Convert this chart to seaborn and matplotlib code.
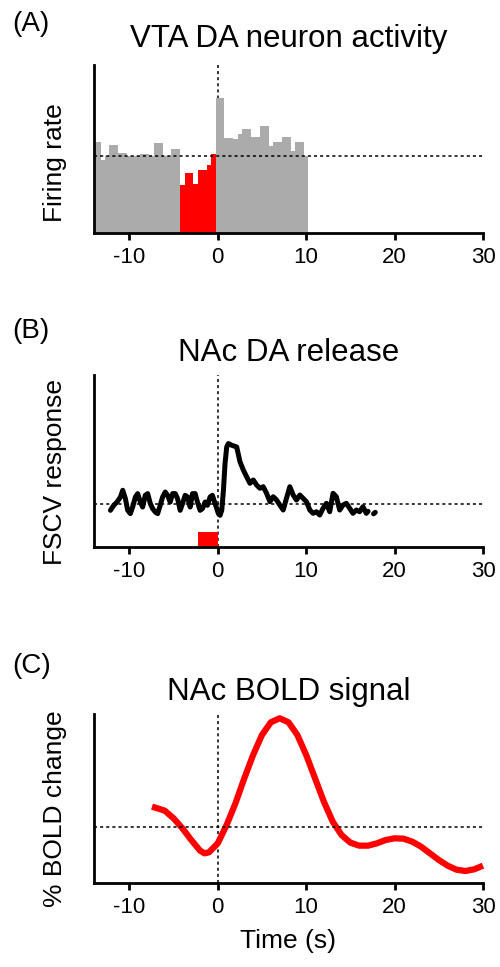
import numpy as np
import pandas as pd
import seaborn as sns
import matplotlib.pyplot as plt

# ---- data ----
xticks = [-10, 0, 10, 20, 30]

# (A) VTA firing rate, 0.5 s bins, first bin starts at -14.25 s
vta_first_edge = -14.25
vta_bin = 0.5
vta_pre = [1.18, 1.18, 0.95, 0.99, 1.14, 1.14, 1.04, 1.04, 1.0, 0.99,
           1.0, 1.02, 1.02, 1.0, 1.16, 1.16, 1.0, 1.0, 1.09, 1.09]
vta_stim = [0.62, 0.77, 0.77, 0.64, 0.81, 0.81, 0.88, 1.02]
vta_post = [1.75, 1.75, 1.23, 1.23, 1.21, 1.28, 1.34, 1.34, 1.24, 1.24, 1.38,
            1.38, 1.13, 1.18, 1.18, 1.24, 1.24, 1.06, 1.18, 1.18, 1.0]
vta_baseline = 1.0

# (B) FSCV trace
fscv_t = [-12.14, -11.77, -11.39, -11.01, -10.75, -10.45, -10.19, -9.89, -9.63, -9.32,
          -9.06, -8.76, -8.50, -8.20, -7.93, -7.63, -7.37, -7.07, -6.80, -6.51,
          -6.24, -5.94, -5.68, -5.38, -5.11, -4.81, -4.55, -4.25, -3.99, -3.69,
          -3.42, -3.12, -2.86, -2.56, -2.30, -2.00, -1.73, -1.43, -1.17, -0.87,
          -0.61, -0.30, 0.07, 0.26, 0.45, 0.64, 0.82, 1.01, 1.20, 1.58,
          2.14, 2.51, 2.89, 3.26, 3.64, 4.02, 4.39, 4.77, 5.14, 5.52,
          5.90, 6.27, 6.65, 7.02, 7.40, 7.77, 8.15, 8.53, 8.90, 9.28,
          9.65, 10.03, 10.41, 10.78, 11.16, 11.53, 11.91, 12.29, 12.66, 13.04,
          13.41, 13.79, 14.17, 14.54, 14.92, 15.29, 15.67, 16.05, 16.42, 16.80, 17.0]
fscv_v = [-0.6, -0.1, 0.23, 0.73, 1.4, 0.57, -0.6, -0.93, -0.27, 0.73,
          1.07, 0.23, -0.27, 0.9, 1.07, 0.07, -0.43, -0.77, -0.93, -0.1,
          0.73, 1.23, 0.9, 0.23, 1.07, 1.07, 0.57, -0.6, 0.07, 0.9,
          0.73, -0.27, 1.07, 1.07, 0.23, -0.6, -0.43, 0.23, -0.1, 0.73,
          0.9, 0.07, -0.93, -1.1, -0.6, 1.4, 4.07, 5.73, 6.07, 5.9,
          5.73, 4.26, 3.43, 2.76, 2.1, 2.43, 1.93, 1.6, 1.76, 1.1,
          0.26, 0.76, 0.43, -0.07, -0.57, 0.6, 1.76, 0.93, 0.43, 0.93,
          0.6, 0.26, -0.57, -0.9, -0.74, -1.07, -0.4, 0.1, -0.74, 1.1,
          0.76, -0.57, -0.07, 0.1, -0.4, -0.9, -0.57, -0.74, -0.24, -0.9, -0.7]
fscv_tail_t = [17.62, 17.82]
fscv_tail_v = [-0.95, -0.8]
stim_t = [-2.2, 0.0]
stim_top = -2.73

# (C) BOLD
bold_t = [-7.44, -6, -5, -4, -3, -2, -1.5, -1, 0, 1, 2, 3, 4, 5, 6, 7, 8, 9, 10,
          11, 12, 13, 14, 15, 16, 17, 18, 19, 20, 21, 22, 23, 24, 25, 26, 27, 28, 29, 30]
bold_v = [0.6, 0.48, 0.25, -0.05, -0.4, -0.72, -0.8, -0.77, -0.5, 0.05, 0.7, 1.45,
          2.15, 2.75, 3.13, 3.25, 3.13, 2.75, 2.15, 1.45, 0.75, 0.15, -0.25, -0.48,
          -0.57, -0.57, -0.5, -0.4, -0.35, -0.36, -0.45, -0.6, -0.8, -1.0, -1.17,
          -1.29, -1.33, -1.28, -1.17]

# ---- style ----
sns.set_style("ticks")
plt.rcParams['font.family'] = ['Liberation Sans', 'DejaVu Sans']
plt.rcParams['axes.unicode_minus'] = False
plt.rcParams['axes.edgecolor'] = 'black'
plt.rcParams['xtick.color'] = 'black'
plt.rcParams['text.color'] = 'black'
plt.rcParams['axes.labelcolor'] = 'black'

fig = plt.figure(figsize=(5, 9.67), dpi=100)
axA = fig.add_axes([0.188, 0.759, 0.778, 0.1737])
axB = fig.add_axes([0.188, 0.4347, 0.778, 0.1776])
axC = fig.add_axes([0.188, 0.0872, 0.778, 0.1745])

dots = (0, (2, 2))


def style(ax, ylo, yhi, base):
    ax.set_xlim(-14, 30)
    ax.set_ylim(ylo, yhi)
    ax.set_xticks(xticks)
    ax.set_xticklabels([str(t) for t in xticks])
    ax.set_yticks([])
    sns.despine(ax=ax)
    for s in ['left', 'bottom']:
        ax.spines[s].set_linewidth(2)
    ax.tick_params(axis='x', length=5, width=2, labelsize=16, pad=5)
    ax.axhline(base, ls=dots, lw=1.1, color='k', zorder=3)
    ax.axvline(0, ls=dots, lw=1.1, color='k', zorder=0.5)


# (A)
n_pre, n_stim, n_post = len(vta_pre), len(vta_stim), len(vta_post)
edges = (vta_first_edge + vta_bin * np.arange(n_pre + n_stim + n_post + 1)).tolist()
centers = [(a + b) / 2 for a, b in zip(edges[:-1], edges[1:])]
dfA = pd.DataFrame({'t': centers, 'rate': vta_pre + vta_stim + vta_post})
dfA['stim'] = [False] * n_pre + [True] * n_stim + [False] * n_post
sns.histplot(data=dfA[~dfA.stim], x='t', weights='rate', bins=edges, ax=axA,
             color='#ababab', alpha=1, linewidth=0, antialiased=False)
sns.histplot(data=dfA[dfA.stim], x='t', weights='rate', bins=edges, ax=axA,
             color='#ff0000', alpha=1, linewidth=0, antialiased=False)
style(axA, 0, 2.17, vta_baseline)
axA.set_xlabel('')
axA.set_ylabel('Firing rate', fontsize=19, va='center')
axA.yaxis.set_label_coords(-0.1, 0.417)
axA.set_title('VTA DA neuron activity', fontsize=22.5, pad=13)

# (B)
sns.lineplot(x=fscv_t, y=fscv_v, ax=axB, color='black', lw=3.6, sort=False)
sns.lineplot(x=fscv_tail_t, y=fscv_tail_v, ax=axB, color='black', lw=3.6, sort=False)
axB.fill_between(stim_t, -4.23, stim_top, color='#ff0000', lw=0, zorder=2)
style(axB, -4.23, 12.93, 0)
axB.set_ylabel('FSCV response', fontsize=19, va='center')
axB.yaxis.set_label_coords(-0.1, 0.435)
axB.set_title('NAc DA release', fontsize=22.5, pad=10)

# (C)
sns.lineplot(x=bold_t, y=bold_v, ax=axC, color='#ff0000', lw=4.5, sort=False,
             solid_capstyle='butt', clip_on=False)
style(axC, -1.68, 3.38, 0)
axC.set_ylabel('% BOLD change', fontsize=19, va='center')
axC.yaxis.set_label_coords(-0.1, 0.437)
axC.set_xlabel('Time (s)', fontsize=19, labelpad=8)
axC.set_title('NAc BOLD signal', fontsize=22.5, pad=10)

for lbl, ytop in [('(A)', 11), ('(B)', 318), ('(C)', 653)]:
    fig.text(0.024, 1 - ytop / 967, lbl, fontsize=20, va='top')

fig.savefig('out.png', dpi=100)
